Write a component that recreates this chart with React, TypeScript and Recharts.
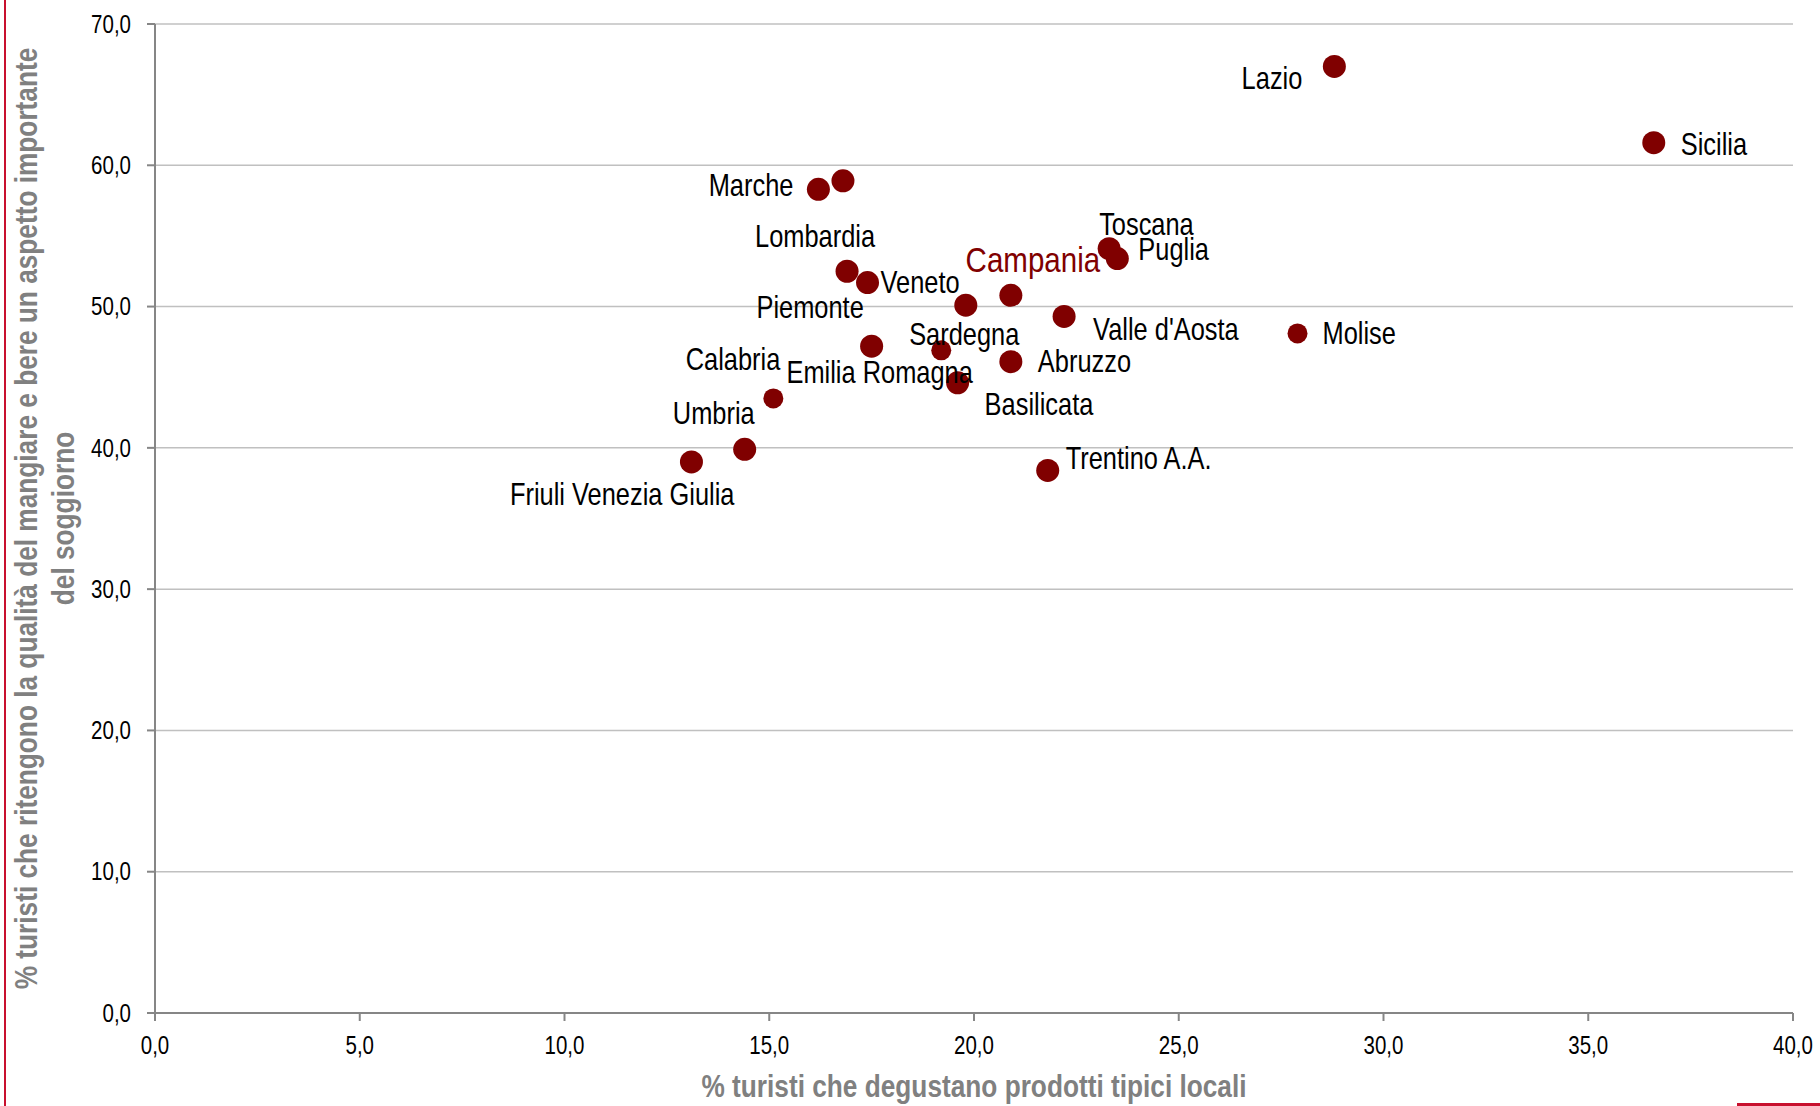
import { ScatterChart, Scatter, XAxis, YAxis, CartesianGrid, Label } from 'recharts'

// Regioni italiane: % turisti che degustano prodotti tipici (x)
// e % che ritiene importante la qualità del mangiare e bere (y)
const REGIONS = [
  'Lazio', 'Sicilia', 'Marche', 'Liguria', 'Lombardia', 'Veneto', 'Piemonte',
  'Campania', 'Toscana', 'Puglia', "Valle d'Aosta", 'Molise', 'Sardegna',
  'Abruzzo', 'Emilia Romagna', 'Basilicata', 'Calabria', 'Umbria',
  'Friuli Venezia Giulia', 'Trentino A.A.',
]
const DEGUSTANO = [
  28.8, 36.6, 16.2, 16.8, 16.9, 17.4, 19.8,
  20.9, 23.3, 23.5, 22.2, 27.9, 19.2,
  20.9, 17.5, 19.6, 15.1, 14.4,
  13.1, 21.8,
]
const QUALITA = [
  67.0, 61.6, 58.3, 58.9, 52.5, 51.7, 50.1,
  50.8, 54.1, 53.4, 49.3, 48.1, 46.9,
  46.1, 47.2, 44.6, 43.5, 39.9,
  39.0, 38.4,
]
const X_TICKS = [0, 5, 10, 15, 20, 25, 30, 35, 40]
const Y_TICKS = [0, 10, 20, 30, 40, 50, 60, 70]

const data = REGIONS.map((name, i) => ({ name, x: DEGUSTANO[i], y: QUALITA[i] }))

const FONT = "'Liberation Sans', Arial, sans-serif"
// no narrow face installed: squeeze the regular one horizontally
const SQUEEZE = 0.82
const DOT = '#800000'
const AXIS = '#868686'
const GRID = '#c0c0c0'
const TITLE = '#808080'

// label placement relative to the dot centre: dx, dy (baseline), anchor
const LABEL_POS: Record<string, [number, number, 'start' | 'middle' | 'end']> = {
  Lazio: [-32, 23, 'end'],
  Sicilia: [27, 12, 'start'],
  Marche: [-25, 7, 'end'],
  Lombardia: [-32, -24, 'middle'],
  Veneto: [13, 10, 'start'],
  Piemonte: [-102, 13, 'end'],
  Campania: [22, -23, 'middle'],
  Toscana: [-10, -14, 'start'],
  Puglia: [21, 1, 'start'],
  "Valle d'Aosta": [29, 24, 'start'],
  Molise: [25, 11, 'start'],
  Sardegna: [23, -5, 'middle'],
  Abruzzo: [27, 10, 'start'],
  'Emilia Romagna': [8, 37, 'middle'],
  Basilicata: [27, 32, 'start'],
  Calabria: [7, -28, 'end'],
  Umbria: [10, -25, 'end'],
  'Friuli Venezia Giulia': [43, 43, 'end'],
  'Trentino A.A.': [18, -1, 'start'],
}
const SMALL_DOTS = ['Molise', 'Sardegna', 'Calabria']

const fmt = (v: number) => v.toFixed(1).replace('.', ',')

function NarrowText({ x, y, anchor, size, color, bold, dy, children }: any) {
  return (
    <text
      transform={`translate(${x}, ${y}) scale(${SQUEEZE}, 1)`}
      x={0}
      y={0}
      dy={dy}
      textAnchor={anchor}
      fill={color}
      style={{ fontFamily: FONT, fontSize: size, fontWeight: bold ? 700 : 400 }}
    >
      {children}
    </text>
  )
}

function Dot(props: any) {
  const { cx, cy, payload } = props
  const r = SMALL_DOTS.includes(payload.name) ? 10 : 11.5
  return <circle cx={cx} cy={cy} r={r} fill={DOT} />
}

function RegionLabel(props: any) {
  const { cx, cy, payload } = props
  const pos = LABEL_POS[payload.name]
  if (!pos) return <g />
  const highlight = payload.name === 'Campania'
  return (
    <NarrowText
      x={cx + pos[0]}
      y={cy + pos[1]}
      anchor={pos[2]}
      size={highlight ? 36 : 31}
      color={highlight ? DOT : '#000'}
    >
      {payload.name}
    </NarrowText>
  )
}

function XTick({ x, y, payload }: any) {
  return (
    <NarrowText x={x} y={y} dy="0.71em" anchor="middle" size={25} color="#000">
      {fmt(payload.value)}
    </NarrowText>
  )
}

function YTick({ x, y, payload }: any) {
  return (
    <NarrowText x={x} y={y} dy="0.35em" anchor="end" size={25} color="#000">
      {fmt(payload.value)}
    </NarrowText>
  )
}

function XTitle({ viewBox }: any) {
  return (
    <NarrowText x={viewBox.x + viewBox.width / 2} y={viewBox.y + 84} anchor="middle" size={32} color={TITLE} bold>
      % turisti che degustano prodotti tipici locali
    </NarrowText>
  )
}

function YTitle({ viewBox }: any) {
  const cx = 37
  const cy = viewBox.y + viewBox.height / 2
  return (
    <text
      transform={`translate(${cx}, ${cy}) rotate(-90) scale(${SQUEEZE}, 1)`}
      x={0}
      y={0}
      textAnchor="middle"
      fill={TITLE}
      style={{ fontFamily: FONT, fontSize: 32, fontWeight: 700 }}
    >
      <tspan x={0} dy={0}>% turisti che ritengono la qualità del mangiare e bere un aspetto importante</tspan>
      <tspan x={0} dy={37}>del soggiorno</tspan>
    </text>
  )
}

export default function App() {
  return (
    <div style={{ position: 'absolute', left: 0, top: 0, width: 1820, height: 1106, background: '#fff' }}>
      <ScatterChart width={1820} height={1106} margin={{ top: 24, right: 27, bottom: 0, left: 0 }}>
        <CartesianGrid horizontal vertical={false} stroke={GRID} strokeWidth={1.5} />
        <XAxis
          type="number"
          dataKey="x"
          domain={[0, 40]}
          ticks={X_TICKS}
          height={93}
          stroke={AXIS}
          strokeWidth={2}
          tickSize={8}
          tickMargin={15}
          tick={<XTick />}
        >
          <Label content={XTitle} />
        </XAxis>
        <YAxis
          type="number"
          dataKey="y"
          domain={[0, 70]}
          ticks={Y_TICKS}
          width={155}
          stroke={AXIS}
          strokeWidth={2}
          tickSize={8}
          tickMargin={16}
          tick={<YTick />}
        >
          <Label content={YTitle} />
        </YAxis>
        <Scatter data={data} shape={Dot} isAnimationActive={false} />
        <Scatter data={data} shape={RegionLabel} isAnimationActive={false} />
      </ScatterChart>
      {/* slide frame accents */}
      <div style={{ position: 'absolute', left: 4, top: 0, width: 1.5, height: 1106, background: '#c8102e' }} />
      <div style={{ position: 'absolute', left: 1737, top: 1103, width: 83, height: 3, background: '#c8102e' }} />
    </div>
  )
}
